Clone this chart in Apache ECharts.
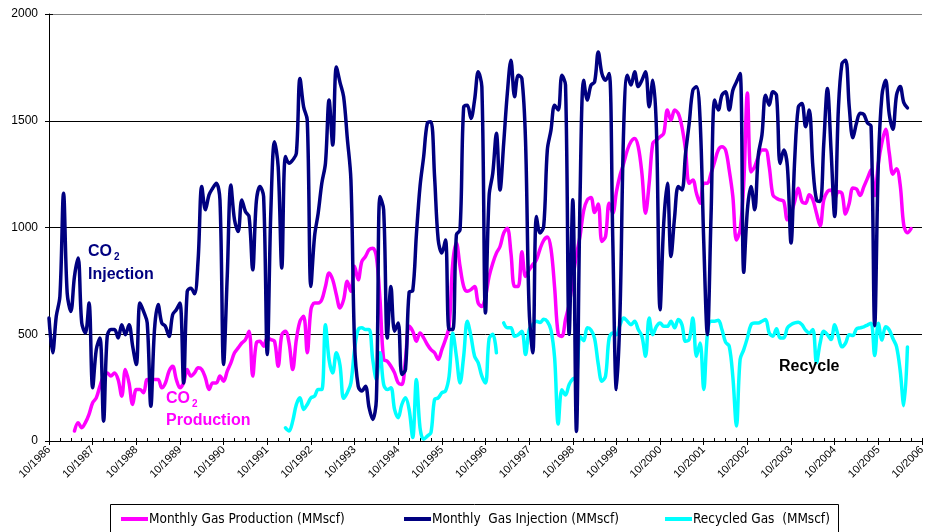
<!DOCTYPE html>
<html>
<head>
<meta charset="utf-8">
<title>Monthly Gas Production, Injection and Recycle</title>
<script src="https://cdn.jsdelivr.net/npm/echarts/dist/echarts.min.js"></script>
<style>
  html, body { margin: 0; padding: 0; background: #fff; }
  #chart { width: 928px; height: 532px; }
</style>
</head>
<body>
<div id="chart"></div>
<script>
// Monthly axis: 10/1986 through 10/2006
const startYear = 1986;
const startMonth = 10;
const monthCount = 241;
const months = [];
for (let k = 0; k < monthCount; k++) {
  const m = ((startMonth - 1 + k) % 12) + 1;
  const y = startYear + Math.floor((startMonth - 1 + k) / 12);
  months.push(m + '/' + y);
}

// y axis ticks (MMscf)
const yTicks = [0, 500, 1000, 1500, 2000];

const seriesNames = [
  'Monthly Gas Production (MMscf)',
  'Monthly  Gas Injection (MMscf)',
  'Recycled Gas  (MMscf)'
];

// Monthly CO2 injection, MMscf (from 10/1986)
const injection = [
  576, 413, 584, 678, 1160, 693, 607, 771, 857, 553,
  506, 646, 249, 428, 483, 93, 490, 522, 522, 483,
  545, 498, 545, 444, 358, 646, 607, 553, 163, 522,
  639, 553, 537, 490, 592, 615, 646, 272, 701, 716,
  690, 850, 1192, 1083, 1153, 1184, 1207, 1129, 358, 771,
  1199, 1036, 981, 1129, 1075, 1051, 802, 1122, 1192, 1145,
  405, 1083, 1402, 1285, 810, 1332, 1301, 1316, 1347, 1698,
  1565, 1503, 724, 958, 1067, 1207, 1301, 1597, 1386, 1752,
  1680, 1612, 1420, 1223, 459, 257, 234, 257, 156, 101,
  195, 1145, 1083, 483, 724, 514, 553, 312, 335, 696,
  704, 966, 1192, 1332, 1488, 1495, 1238, 942, 880, 942,
  522, 522, 966, 989, 1565, 1573, 1511, 1597, 1729, 1659,
  600, 1150, 1254, 1441, 1176, 1394, 1628, 1783, 1612, 1713,
  1698, 1410, 615, 413, 1051, 974, 1005, 1363, 1456, 1573,
  1550, 1713, 1667, 500, 1130, 45, 1145, 1690, 1597, 1667,
  1682, 1822, 1721, 1690, 1721, 935, 241, 615, 1472, 1713,
  1667, 1729, 1660, 1690, 1729, 1565, 1690, 1456, 615, 1020,
  1207, 864, 1051, 1192, 1176, 1347, 1488, 1643, 1659, 1503,
  935, 498, 1051, 1597, 1550, 1620, 1636, 1550, 1643, 1682,
  1721, 790, 1083, 1192, 1083, 1340, 1433, 1620, 1573, 1636,
  1620, 1300, 1363, 1285, 927, 1316, 1565, 1581, 1472, 1550,
  1285, 1129, 1122, 1394, 1651, 1363, 1051, 1550, 1768, 1783,
  1565, 1420, 1490, 1535, 1530, 1490, 1475, 540, 1300, 1620,
  1690, 1530, 1460, 1620, 1660, 1585, 1560
];

// Monthly gas production, MMscf (from 10/1986)
const production = [
  null, null, null, null, null, null, null, 47, 86, 62,
  86, 125, 179, 202, 257, 304, 319, 304, 319, 288,
  210, 335, 272, 171, 241, 241, 226, 288, 288, 288,
  288, 249, 272, 327, 350, 288, 249, 272, 335, 304,
  319, 343, 335, 296, 241, 272, 272, 304, 280, 327,
  366, 413, 436, 459, 475, 514, 304, 459, 467, 444,
  483, 475, 467, 350, 498, 514, 459, 335, 475, 561,
  584, 413, 615, 646, 646, 662, 724, 787, 755, 685,
  623, 662, 748, 701, 818, 755, 841, 864, 896, 903,
  864, 662, 382, 374, 350, 319, 272, 265, 382, 537,
  514, 467, 506, 483, 452, 428, 413, 382, 428, 475,
  537, 833, 927, 818, 724, 701, 709, 724, 646, 630,
  678, 771, 833, 880, 911, 974, 997, 880, 724, 724,
  887, 771, 802, 826, 849, 900, 940, 955, 900, 720,
  500, 490, 570, 640, 760, 870, 960, 1080, 1130, 1140,
  1070, 1110, 935, 958, 1114, 1067, 1168, 1246, 1301, 1363,
  1402, 1417, 1378, 1254, 1067, 1207, 1394, 1410, 1425, 1441,
  1550, 1503, 1550, 1534, 1472, 1363, 1207, 1223, 1160, 1114,
  1207, 1207, 1254, 1308, 1363, 1378, 1363, 1269, 1145, 942,
  989, 1207, 1630, 1260, 1285, 1332, 1363, 1363, 1285, 1153,
  1137, 1129, 1122, 1036, 1067, 1122, 1184, 1122, 1114, 1153,
  1129, 1067, 1008, 1129, 1168, 1176, 1137, 1168, 1160, 1063,
  1114, 1185, 1180, 1150, 1190, 1230, 1270, 1150, 1300, 1400,
  1460, 1350, 1250, 1275, 1200, 1010, 975, 995
];

// Monthly recycled gas, MMscf (from 10/1986)
const recycled = [
  null, null, null, null, null, null, null, null, null, null,
  null, null, null, null, null, null, null, null, null, null,
  null, null, null, null, null, null, null, null, null, null,
  null, null, null, null, null, null, null, null, null, null,
  null, null, null, null, null, null, null, null, null, null,
  null, null, null, null, null, null, null, null, null, null,
  null, null, null, null, null, 62, 47, 93, 171, 202,
  148, 171, 202, 210, 241, 241, 545, 380, 319, 413,
  355, 200, 226, 272, 428, 522, 530, 522, 522, 382,
  288, 413, 265, 241, 249, 148, 109, 171, 202, 148,
  16, 288, 62, 8, 23, 39, 195, 202, 226, 234,
  304, 506, 397, 272, 397, 561, 491, 397, 366, 304,
  272, 480, 500, 413, null, 553, 530, 530, 491, 498,
  514, 405, 522, 545, 561, 555, 570, 560, 520, 390,
  80, 240, 215, 265, 290, 300, 490, 470, 530, 520,
  480, 360, 280, 304, 483, 506, 498, 545, 576, 561,
  545, 561, 522, 491, 397, 576, 498, 537, 553, 537,
  537, 561, 530, 569, 545, 467, 475, 576, 397, 459,
  241, 498, 561, 561, 565, 522, 463, 444, 300, 70,
  382, 428, 483, 545, 553, 553, 561, 569, 506, 491,
  526, 483, 483, 530, 545, 553, 556, 545, 519, 506,
  522, 366, 459, 514, 498, 475, 545, 491, 441, 459,
  498, 494, 525, 530, 535, 543, 552, 400, 552, 473,
  535, 520, 480, 442, 330, 165, 440
];

const colors = { production: '#FF00FF', injection: '#000080', recycled: '#00FFFF' };
const baseFont = "'Liberation Sans', Arial, sans-serif";
const narrowFont = "'Liberation Sans Narrow', 'Arial Narrow', 'DejaVu Sans Condensed', sans-serif";

const chart = echarts.init(document.getElementById('chart'), null, { renderer: 'canvas' });

function lineSeries(name, data, color, z) {
  return {
    name: name,
    type: 'line',
    data: data,
    xAxisIndex: 0,
    yAxisIndex: 0,
    smooth: 0.35,
    showSymbol: false,
    symbol: 'none',
    connectNulls: false,
    z: z,
    lineStyle: { color: color, width: 3.5, cap: 'round', join: 'round' },
    itemStyle: { color: color },
    emphasis: { disabled: true }
  };
}

function legendItem(name, color, left) {
  return {
    data: [{ name: name, icon: 'rect', itemStyle: { color: color } }],
    left: left,
    top: 512,
    padding: 0,
    itemWidth: 27,
    itemHeight: 4,
    itemGap: 0,
    selectedMode: false,
    textStyle: { fontFamily: narrowFont, fontSize: 13.5, color: '#000', padding: [0, 0, 0, -4] }
  };
}

const option = {
  animation: false,
  backgroundColor: '#fff',
  grid: { left: 49, top: 14, width: 880, height: 427, containLabel: false },
  xAxis: [
    {
      type: 'category',
      data: months,
      boundaryGap: false,
      axisLine: { lineStyle: { color: '#000', width: 1 } },
      axisTick: { interval: 2, inside: true, length: 3, lineStyle: { color: '#000' } },
      axisLabel: {
        interval: 11,
        rotate: 45,
        margin: 7,
        fontFamily: baseFont,
        fontSize: 11,
        color: '#000'
      },
      splitLine: { show: false }
    },
    {
      type: 'category',
      data: months,
      boundaryGap: false,
      position: 'bottom',
      axisLine: { show: false },
      axisTick: { interval: 11, inside: false, length: 4, lineStyle: { color: '#000' } },
      axisLabel: { show: false },
      splitLine: { show: false }
    }
  ],
  yAxis: [
    {
      type: 'value',
      min: yTicks[0],
      max: yTicks[yTicks.length - 1],
      interval: yTicks[1] - yTicks[0],
      axisLine: { show: true, lineStyle: { color: '#000', width: 1 } },
      axisTick: { show: true, length: 4, lineStyle: { color: '#000' } },
      axisLabel: {
        margin: 11,
        fontFamily: baseFont,
        fontSize: 12,
        color: '#000',
        formatter: function (v) { return String(v); }
      },
      splitLine: {
        show: true,
        lineStyle: { color: ['#000', '#000', '#000', '#000', '#808080'], width: 1 }
      }
    },
    {
      type: 'value',
      min: yTicks[0],
      max: yTicks[yTicks.length - 1],
      interval: yTicks[1] - yTicks[0],
      position: 'left',
      axisLine: { show: false },
      axisTick: { show: true, inside: true, length: 4, lineStyle: { color: '#000' } },
      axisLabel: { show: false },
      splitLine: { show: false }
    }
  ],
  legend: [
    legendItem(seriesNames[0], colors.production, 121),
    legendItem(seriesNames[1], colors.injection, 404),
    legendItem(seriesNames[2], colors.recycled, 665)
  ],
  series: [
    lineSeries(seriesNames[0], production, colors.production, 2),
    lineSeries(seriesNames[2], recycled, colors.recycled, 3),
    lineSeries(seriesNames[1], injection, colors.injection, 4)
  ],
  graphic: [
    {
      type: 'rect',
      z: 0,
      shape: { x: 110.5, y: 504.5, width: 728, height: 40 },
      style: { fill: '#fff', stroke: '#000', lineWidth: 1 }
    },
    {
      type: 'text', left: 88, top: 244, z: 10,
      style: { text: 'CO', fontFamily: baseFont, fontWeight: 'bold', fontSize: 16, fill: colors.injection }
    },
    {
      type: 'text', left: 114, top: 252, z: 10,
      style: { text: '2', fontFamily: baseFont, fontWeight: 'bold', fontSize: 10, fill: colors.injection }
    },
    {
      type: 'text', left: 88, top: 267, z: 10,
      style: { text: 'Injection', fontFamily: baseFont, fontWeight: 'bold', fontSize: 16, fill: colors.injection }
    },
    {
      type: 'text', left: 166, top: 391, z: 10,
      style: { text: 'CO', fontFamily: baseFont, fontWeight: 'bold', fontSize: 16, fill: colors.production }
    },
    {
      type: 'text', left: 192, top: 399, z: 10,
      style: { text: '2', fontFamily: baseFont, fontWeight: 'bold', fontSize: 10, fill: colors.production }
    },
    {
      type: 'text', left: 166, top: 413, z: 10,
      style: { text: 'Production', fontFamily: baseFont, fontWeight: 'bold', fontSize: 16, fill: colors.production }
    },
    {
      type: 'text', left: 779, top: 359, z: 10,
      style: { text: 'Recycle', fontFamily: baseFont, fontWeight: 'bold', fontSize: 16, fill: '#000' }
    }
  ]
};

chart.setOption(option);
</script>
</body>
</html>
